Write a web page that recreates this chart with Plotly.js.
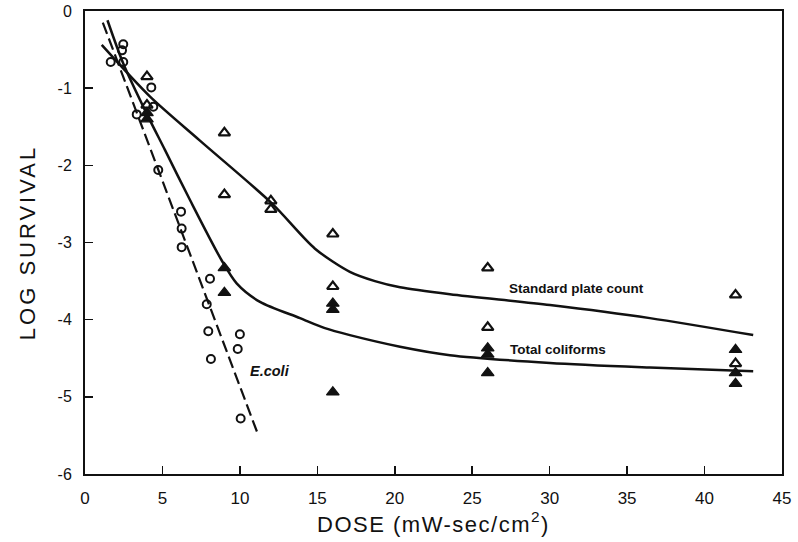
<!DOCTYPE html>
<html>
<head>
<meta charset="utf-8">
<script src="https://cdn.plot.ly/plotly-3.0.1.min.js"></script>
<style>
  html, body { margin: 0; padding: 0; background: #fff; }
  #chart { width: 798px; height: 542px; }
  .xtitle { letter-spacing: 1.5px; }
  .ytitle { letter-spacing: 3px; }
</style>
</head>
<body>
<div id="chart"></div>
<script>
// ---- Data ----
// Standard plate count (open triangles)
const spcDose = [4, 4, 9, 9, 12, 12, 16, 16, 26, 26, 42, 42];
const spcLog  = [-0.85, -1.22, -1.58, -2.38, -2.46, -2.57, -2.89, -3.57, -3.33, -4.10, -3.68, -4.57];

// Total coliforms (filled triangles)
const colDose = [4, 4, 9, 9, 16, 16, 16, 26, 26, 26, 42, 42, 42];
const colLog  = [-1.32, -1.40, -3.33, -3.65, -3.79, -3.87, -4.94, -4.37, -4.45, -4.69, -4.39, -4.69, -4.83];

// E. coli (open circles)
const ecoliDose = [1.66, 2.39, 2.47, 2.47, 3.34, 4.28, 4.41, 4.73, 6.20, 6.24, 6.24, 8.07, 7.86, 7.96, 10.0, 9.86, 8.13, 10.05];
const ecoliLog  = [-0.66, -0.51, -0.43, -0.66, -1.34, -0.99, -1.24, -2.06, -2.60, -2.82, -3.06, -3.47, -3.80, -4.15, -4.19, -4.38, -4.51, -5.28];

// Fitted curves
const spcFitDose = [1.08, 4.2, 7.42, 12.05, 14.85, 17.1, 18.72, 20.34, 23.56, 30.02, 36.47, 43.14];
const spcFitLog  = [-0.44, -1.11, -1.68, -2.49, -3.08, -3.38, -3.50, -3.58, -3.67, -3.81, -3.98, -4.20];

const colFitDose = [1.45, 2.47, 3.98, 5.16, 6.78, 8.82, 9.79, 11.3, 13.88, 15.49, 17.1, 20.34, 23.56, 30.02, 36.47, 43.14];
const colFitLog  = [-0.12, -0.68, -1.33, -1.80, -2.45, -3.23, -3.53, -3.77, -3.98, -4.11, -4.20, -4.35, -4.46, -4.56, -4.62, -4.67];

const ecoliFitDose = [1.15, 11.1];
const ecoliFitLog  = [-0.15, -5.45];

// Tick labels
const xTickVals = [0, 5, 10, 15, 20, 25, 30, 35, 40, 45];
const xTickText = ['0', '5', '10', '15', '20', '25', '30', '35', '40', '45'];
const yTickVals = [0, -1, -2, -3, -4, -5, -6];
const yTickText = ['0', '-1', '-2', '-3', '-4', '-5', '-6'];

// Curve labels
const labelSPC = 'Standard plate count';
const labelCol = 'Total coliforms';
const labelEcoli = 'E.coli';

const INK = '#111';
const FONT = '"Liberation Sans", Arial, Helvetica, sans-serif';

const traces = [
  { x: spcFitDose, y: spcFitLog, mode: 'lines', type: 'scatter',
    line: { color: INK, width: 2.5, shape: 'spline', smoothing: 0.8 }, hoverinfo: 'skip' },
  { x: colFitDose, y: colFitLog, mode: 'lines', type: 'scatter',
    line: { color: INK, width: 2.5, shape: 'spline', smoothing: 0.8 }, hoverinfo: 'skip' },
  { x: ecoliFitDose, y: ecoliFitLog, mode: 'lines', type: 'scatter',
    line: { color: INK, width: 2.2, dash: '12px,5px' }, hoverinfo: 'skip' },
  { x: ecoliDose, y: ecoliLog, mode: 'markers', type: 'scatter',
    marker: { symbol: 'circle-open', size: 8, color: INK, line: { width: 2, color: INK } } },
  { x: spcDose, y: spcLog, mode: 'markers', type: 'scatter',
    marker: { symbol: 'triangle-up-open', size: 10, color: INK, line: { width: 2.2, color: INK } } },
  { x: colDose, y: colLog, mode: 'markers', type: 'scatter',
    marker: { symbol: 'triangle-up', size: 11, color: INK, line: { width: 1.2, color: INK } } }
];

const layout = {
  width: 798, height: 542,
  margin: { l: 85, r: 16, t: 11, b: 68 },
  paper_bgcolor: '#fff', plot_bgcolor: '#fff',
  showlegend: false,
  font: { family: FONT, color: INK },
  xaxis: {
    range: [0, 45], tickvals: xTickVals, ticktext: xTickText,
    ticks: 'inside', ticklen: 8, tickwidth: 1.5, tickcolor: INK,
    showline: true, linewidth: 2, linecolor: INK, mirror: true,
    showgrid: false, zeroline: false,
    tickfont: { family: FONT, size: 17, color: INK },
    ticklabelstandoff: 8,
    title: { text: 'DOSE (mW-sec/cm<sup>2</sup>)', font: { family: FONT, size: 22, color: INK }, standoff: 8 }
  },
  yaxis: {
    range: [-6, 0], tickvals: yTickVals, ticktext: yTickText,
    ticks: 'inside', ticklen: 8, tickwidth: 1.5, tickcolor: INK,
    showline: true, linewidth: 2, linecolor: INK, mirror: true,
    showgrid: false, zeroline: false,
    tickfont: { family: FONT, size: 16, color: INK },
    ticklabelstandoff: 8,
    title: { text: 'LOG SURVIVAL', font: { family: FONT, size: 22, color: INK }, standoff: 16 }
  },
  annotations: [
    { x: 27.24, y: -3.60, xref: 'x', yref: 'y', text: '<b>' + labelSPC + '</b>', showarrow: false,
      xanchor: 'left', yanchor: 'middle', font: { family: FONT, size: 13.5, color: INK } },
    { x: 27.31, y: -4.385, xref: 'x', yref: 'y', text: '<b>' + labelCol + '</b>', showarrow: false,
      xanchor: 'left', yanchor: 'middle', font: { family: FONT, size: 13.5, color: INK } },
    { x: 10.52, y: -4.66, xref: 'x', yref: 'y', text: '<b><i>' + labelEcoli + '</i></b>', showarrow: false,
      xanchor: 'left', yanchor: 'middle', font: { family: FONT, size: 14.5, color: INK } }
  ]
};

Plotly.newPlot('chart', traces, layout, { staticPlot: true, displayModeBar: false });
</script>
</body>
</html>
